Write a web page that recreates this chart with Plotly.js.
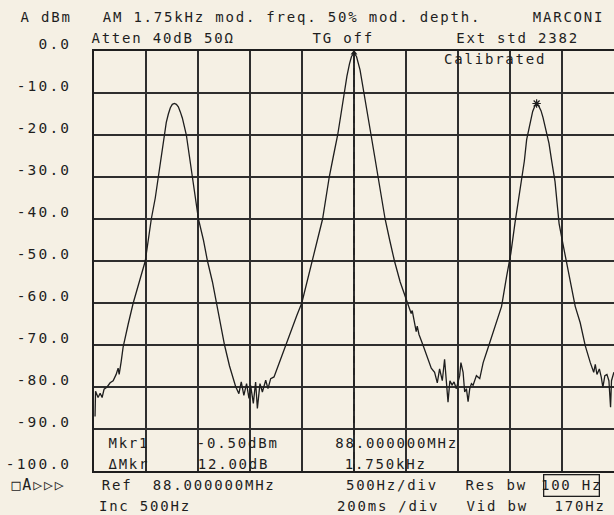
<!DOCTYPE html>
<html>
<head>
<meta charset="utf-8">
<script src="https://cdn.plot.ly/plotly-3.0.1.min.js"></script>
<style>
html,body{margin:0;padding:0;background:#f5f0e4;}
#plot{width:614px;height:515px;}
#plot .annotation text{letter-spacing:1.8px;}
#plot .ytick text{letter-spacing:2.2px;}
</style>
</head>
<body>
<div id="plot"></div>
<script>
// ---- data (frequency offset from 88.000000 MHz, Hz ; level, dBm) ----
const freqHz = [
  -2490,-2485,-2461,-2441,-2422,-2403,-2374,-2345,-2316,-2287,-2268,-2258,-2239,-2220,-2171,-2123,-2065,-2007,-1978,-1949,
  -1911,-1882,-1853,-1824,-1805,-1785,-1766,-1747,-1727,-1708,-1689,-1670,-1650,-1631,-1612,-1583,-1554,-1525,-1496,-1448,
  -1409,-1361,-1322,-1283,-1245,-1197,-1158,-1139,
  -1107,-1084,-1059,-1033,-1010,-994,-968,-946,-929,-904,-881,-849,-827,-801,-769,
  -704,-656,-608,-550,-502,-454,-399,-352,-302,-270,-238,-198,-157,-125,-94,-68,-43,-24,0,
  24,58,94,125,164,198,234,265,299,343,389,444,511,550,560,579,598,608,625,663,711,
  743,775,801,823,849,871,888,904,922,943,962,984,1016,1028,1049,1064,1081,1097,1113,1129,1145,1177,1209,1242,
  1290,1354,1419,1467,1508,1547,1580,1612,1638,1660,1682,1701,1718,1734,1756,1778,1798,1817,1836,1856,
  1875,1901,1933,1952,1972,2008,2046,2088,2127,2175,2224,2272,2305,2320,2336,2359,2378,2393,2412,2432,
  2451,2467,2476,2499
];
const levelDb = [
  -87,-81,-82.5,-81.5,-82.5,-80.5,-80,-79,-78.5,-77,-75.5,-77,-74,-70.5,-65,-60,-55,-50,-45,-40,
  -35,-30,-25,-20,-17,-15,-13.5,-12.7,-12.5,-12.7,-13.3,-14.5,-16,-18,-20,-25,-30,-35,-40,-45,
  -50,-55,-60,-65,-70,-75,-78.5,-79.8,
  -81.6,-78.8,-82,-79.2,-82.7,-79.6,-83.9,-78.8,-85.1,-79.2,-81.2,-78.4,-80.4,-78,-77.6,
  -73.3,-70,-66.5,-63,-60,-55,-50,-45,-40,-35,-30,-25,-20,-15,-10,-6,-3,-1.3,-0.5,
  -1.3,-4.5,-10,-15,-20,-25,-30,-35,-40,-45,-50,-55,-60,-62.5,-61.8,-64.5,-66.8,-65.5,-67.5,-70,-73.5,
  -75.5,-76.5,-79,-75.7,-78.5,-73.4,-78,-83.6,-78.5,-79.5,-78.8,-80.4,-77.3,-74.2,-76.5,-81.2,-80.4,-83.5,-80.4,-79.2,-79.6,-77.3,-78,-74.2,
  -70.6,-65.9,-60.8,-53.7,-48.2,-41.1,-36,-31.1,-26.2,-21.1,-18.3,-16,-14.4,-13.4,-12.5,-13.2,-14.2,-15.8,-18,-20,
  -22,-26.2,-31.1,-36,-41.1,-45.8,-50.9,-56,-60.8,-64.7,-70.2,-74.2,-76.5,-74.6,-77,-75.7,-77.7,-80.1,-77.3,-77,
  -78.5,-84.8,-78.5,-76.5
];
const mkrFreq = [0];      const mkrLevel = [-0.5];
const dMkrFreq = [1756];  const dMkrLevel = [-12.5];
const yTickVals = [0,-10,-20,-30,-40,-50,-60,-70,-80,-90,-100];
const yTickText = ['0.0','-10.0','-20.0','-30.0','-40.0','-50.0','-60.0','-70.0','-80.0','-90.0','-100.0'];

// ---- layout helpers ----
const W = 614, H = 515, ML = 94, MR = 0, MT = 51, MB = 44;
const PW = W - ML - MR, PH = H - MT - MB;
const INK = '#1e1e1e';
const BG = '#f5f0e4';
const FONT = {family:'DejaVu Sans Mono, Liberation Mono, monospace', size:14, color:INK};
function px2x(px){ return (px - ML) / PW; }
function py2y(py){ return (H - MB - py) / PH; }
// px = horizontal centre of the text in pixels, py = vertical centre
function ann(text, px, py, extra){
  return Object.assign({text:text, x:px2x(px), y:py2y(py), xref:'paper', yref:'paper',
    xanchor:'center', yanchor:'middle', showarrow:false, font:FONT}, extra||{});
}

const annotations = [
  ann('A dBm', 46, 17),
  ann('AM 1.75kHz mod. freq. 50% mod. depth.', 292, 17),
  ann('MARCONI', 568, 17),
  ann('Atten 40dB 50Ω', 163, 38),
  ann('TG off', 343, 38),
  ann('Ext std 2382', 517, 38),
  ann('Calibrated', 495, 59),
  ann('Mkr1', 129, 443),
  ann('-0.50dBm', 237, 443),
  ann('88.000000MHz', 396, 443),
  ann('ΔMkr', 129, 464),
  ann('12.00dB', 233, 464),
  ann('1.750kHz', 385, 464),
  ann('□A▷▷▷', 38, 485, {font:{family:FONT.family, size:15, color:INK}}),
  ann('Ref  88.000000MHz', 188, 485),
  ann('500Hz/div', 392, 485),
  ann('Res bw', 496, 485),
  ann('100 Hz', 571, 485, {bordercolor:INK, borderwidth:1.3, borderpad:2}),
  ann('Inc 500Hz', 145, 506),
  ann('200ms /div', 388, 506),
  ann('Vid bw', 497, 506),
  ann('170Hz', 580, 506)
];

const traces = [
  {x:freqHz, y:levelDb, type:'scatter', mode:'lines', line:{color:INK, width:1.3}, hoverinfo:'skip'},
  {x:mkrFreq, y:mkrLevel, type:'scatter', mode:'markers', marker:{symbol:'triangle-up', size:6, color:INK}, cliponaxis:false},
  {x:dMkrFreq, y:dMkrLevel, type:'scatter', mode:'markers', marker:{symbol:'asterisk-open', size:7, color:INK, line:{color:INK, width:1.2}}, cliponaxis:false}
];

const layout = {
  width:W, height:H,
  margin:{l:ML, r:MR, t:MT, b:MB, pad:0},
  paper_bgcolor:BG, plot_bgcolor:BG,
  showlegend:false,
  font:FONT,
  xaxis:{range:[-2500,2500], dtick:500, tick0:0, showgrid:true, gridcolor:'#2e2e2e', gridwidth:1.5,
         zeroline:false, showticklabels:false, ticks:'', showline:true, mirror:true, linecolor:INK, linewidth:1.8, fixedrange:true},
  yaxis:{range:[-100,0], tickvals:yTickVals, ticktext:yTickText, showgrid:true, gridcolor:'#2e2e2e', gridwidth:1.5,
         zeroline:false, ticks:'', showline:true, mirror:true, linecolor:INK, linewidth:1.8,
         ticklabelshift:-7, ticklabelstandoff:18, tickfont:{family:FONT.family, size:14.5, color:INK}, fixedrange:true},
  shapes:[{type:'line', xref:'x', yref:'paper', x0:mkrFreq[0], x1:mkrFreq[0], y0:0, y1:1,
           line:{color:INK, width:1.2, dash:'7px,5px'}}],
  annotations:annotations
};

Plotly.newPlot('plot', traces, layout, {displayModeBar:false, staticPlot:true});
</script>
</body>
</html>
